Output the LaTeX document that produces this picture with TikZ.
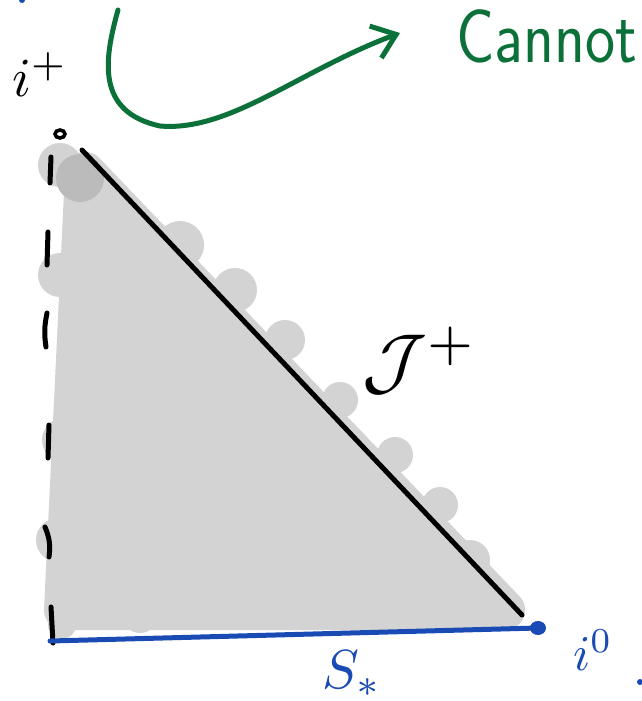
\documentclass[tikz,border=0pt]{standalone}
\usetikzlibrary{arrows.meta}
\definecolor{penblue}{HTML}{1A4BB4}
\definecolor{pengreen}{HTML}{0B7139}
\definecolor{graylight}{HTML}{D3D3D3}
\definecolor{graydark}{HTML}{BBBBBB}
\tikzset{
  ink/.style={line width=5pt, line cap=round, line join=round},
  dashseg/.style={ink, black},
  lbl/.style={inner sep=0pt},
}
\begin{document}
\begin{tikzpicture}[x=1pt,y=-1pt]
\useasboundingbox (0,0) rectangle (641,701);
% shaded region
\filldraw[draw=graylight, fill=graylight, line width=40pt, line join=round] (85,172) -- (505,610) -- (64,610) -- cycle;
\fill[graylight] (60,165) circle (22);
\foreach \p/\r in {{(180,245)/24},{(235,290)/22},{(285,340)/20},{(340,400)/18},{(395,455)/18},{(440,505)/18},{(470,560)/20},{(60,275)/22},{(64,440)/22},{(58,540)/22},{(62,625)/14},{(140,615)/18},{(230,612)/18},{(320,612)/18}} \fill[graylight] \p circle (\r);
\fill[graydark] (80,178) circle (24);
% null infinity
\coordinate (top) at (82,150);
\coordinate (io) at (538,628);
\coordinate (bl) at (50,641);
\draw[ink] (top) -- (522,615);
% dashed origin
\draw[dashseg] (51,157) -- (50,183);
\draw[dashseg] (48,232) -- (47,265);
\draw[dashseg] (47,313) to[bend right=10] (46,347);
\draw[dashseg] (49,425) -- (48,458);
\draw[dashseg] (45,527) to[bend left=15] (49,557);
\draw[dashseg] (51,607) -- (53,643);
% i+ point
\draw[line width=3.5pt] (60,134) ellipse (5 and 4);
% S* slice
\draw[ink, penblue] (bl) -- (io);
\fill[penblue] (io) ellipse (8 and 7);
% labels
\node[lbl] (iplus) at (40,75) {\scalebox{5.5}{$i^{+}$}};
\node[lbl] (scri) at (420,360) {\scalebox{7.5}{$\mathcal{J}^{+}$}};
\node[lbl, text=penblue] (sstar) at (352,674) {\scalebox{5.5}{$S_{*}$}};
\node[lbl, text=penblue] (izero) at (593,650) {\scalebox{5}{$i^{0}$}};
\node[lbl, anchor=west, text=pengreen] (cannot) at (456,36) {\fontsize{76}{80}\selectfont\sffamily\scalebox{0.84}[1]{Cannot}};
% green arrow
\draw[ink, pengreen, -{Straight Barb[length=22pt,width=34pt,line width=5pt]}] (118,10) .. controls (104,60) and (96,112) .. (160,126) .. controls (230,132) and (300,70) .. (400,33);
% stray marks
\fill[penblue] (22,0) circle (3);
\fill[penblue] (640,682) circle (3);
\end{tikzpicture}
\end{document}
